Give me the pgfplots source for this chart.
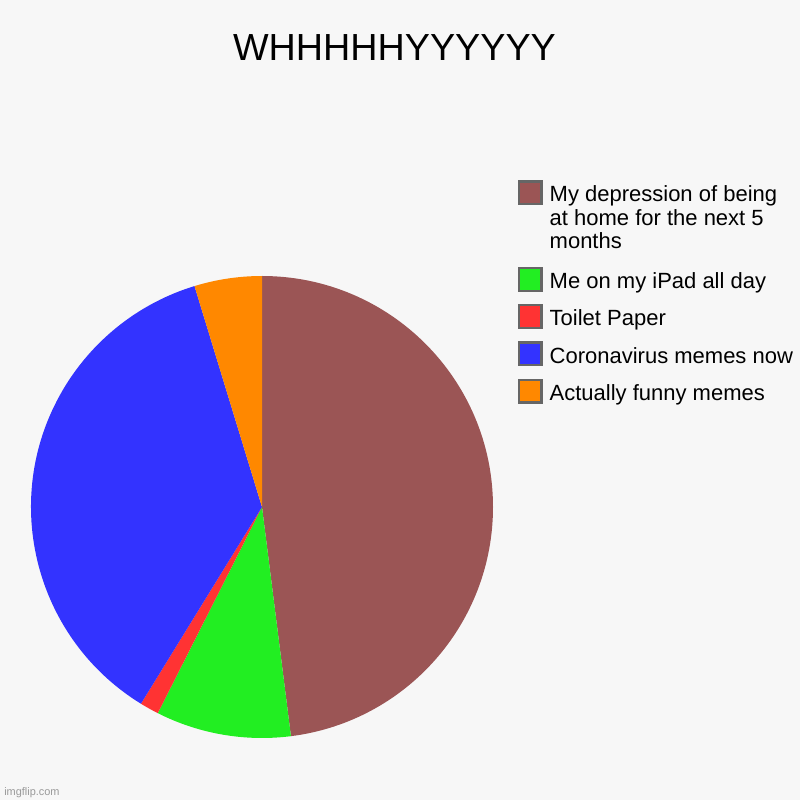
\documentclass[border=0pt]{standalone}
\usepackage{fontspec}
\setmainfont{Liberation Sans}
\usepackage{pgfplots}
\usepackage{pgfplotstable}
\pgfplotsset{compat=1.18}

\definecolor{bgc}{HTML}{F7F7F7}
\definecolor{c0}{HTML}{9B5555}
\definecolor{c1}{HTML}{22EE22}
\definecolor{c2}{HTML}{FF3333}
\definecolor{c3}{HTML}{3333FF}
\definecolor{c4}{HTML}{FF8800}
\definecolor{edge}{HTML}{666666}

% slices, clockwise from 12 o'clock (percent)
\pgfplotstableread{
idx value
0 48.0
1 9.45
2 1.33
3 36.5
4 4.72
}\piedata

% cumulative angles, computed before the axis
\pgfplotstablegetrowsof{\piedata}
\pgfmathtruncatemacro{\nrows}{\pgfplotsretval-1}
\gdef\cum{0}
\foreach \i in {0,...,\nrows}{
  \pgfplotstablegetelem{\i}{value}\of\piedata
  \pgfmathsetmacro{\a}{\cum}
  \pgfmathsetmacro{\b}{\cum+3.6*\pgfplotsretval}
  \expandafter\xdef\csname angs\i\endcsname{\a}
  \expandafter\xdef\csname ange\i\endcsname{\b}
  \xdef\cum{\b}
}

\pgfplotsset{
  pie legend/.style={
    legend image code/.code={%
      \path[draw=none,fill=none] (0pt,-5pt) rectangle (17pt,16pt);
      \draw[##1,draw=edge,line width=1.7pt]
        (0.85pt,-1.65pt) rectangle (17.9pt,15.35pt);},
  },
}

\begin{document}
\begin{tikzpicture}
\begin{axis}[
  scale only axis,
  width=600pt, height=600pt,
  xmin=0, xmax=800, ymin=0, ymax=800,
  hide axis, clip=false,
  pie legend,
  legend style={
    at={(0.6472,0.7745)}, anchor=north west,
    draw=none, fill=none, inner sep=0pt, outer sep=0pt,
    row sep=6.75pt, column sep=5.2pt,
    font=\fontsize{16.5pt}{17.6pt}\selectfont,
    nodes={inner sep=0pt, text depth=},
    cells={anchor=base west, inner sep=0pt},
  },
]
  \fill[bgc] (axis cs:0,0) rectangle (axis cs:800,800);

  \pgfplotsinvokeforeach{0,...,4}{
    \fill[c#1] (axis cs:262,293) --
      ++({90-\csname angs#1\endcsname}:173.25pt)
      arc[start angle={90-\csname angs#1\endcsname},
          end angle={90-\csname ange#1\endcsname}, radius=173.25pt]
      -- cycle;
  }

  \addlegendimage{fill=c0}
  \addlegendentry{\parbox[t]{200pt}{My depression of being\\at home for the next 5\\months\rule[-6.75pt]{0pt}{0pt}}}
  \addlegendimage{fill=c1}
  \addlegendentry{Me on my iPad all day}
  \addlegendimage{fill=c2}
  \addlegendentry{Toilet Paper}
  \addlegendimage{fill=c3}
  \addlegendentry{Coronavirus memes now}
  \addlegendimage{fill=c4}
  \addlegendentry{Actually funny memes}

  \node[anchor=base, font=\fontsize{28.3pt}{34pt}\selectfont]
    at (axis cs:394.5,739.3) {WHHHHHYYYYYY};
  \node[anchor=base west, inner sep=0pt, text=black!40,
        font=\fontsize{8.2pt}{10pt}\selectfont]
    at (axis cs:4,5) {imgflip.com};
\end{axis}
\pgfresetboundingbox
\path (0,0) rectangle (600pt,600pt);
\end{tikzpicture}
\end{document}
